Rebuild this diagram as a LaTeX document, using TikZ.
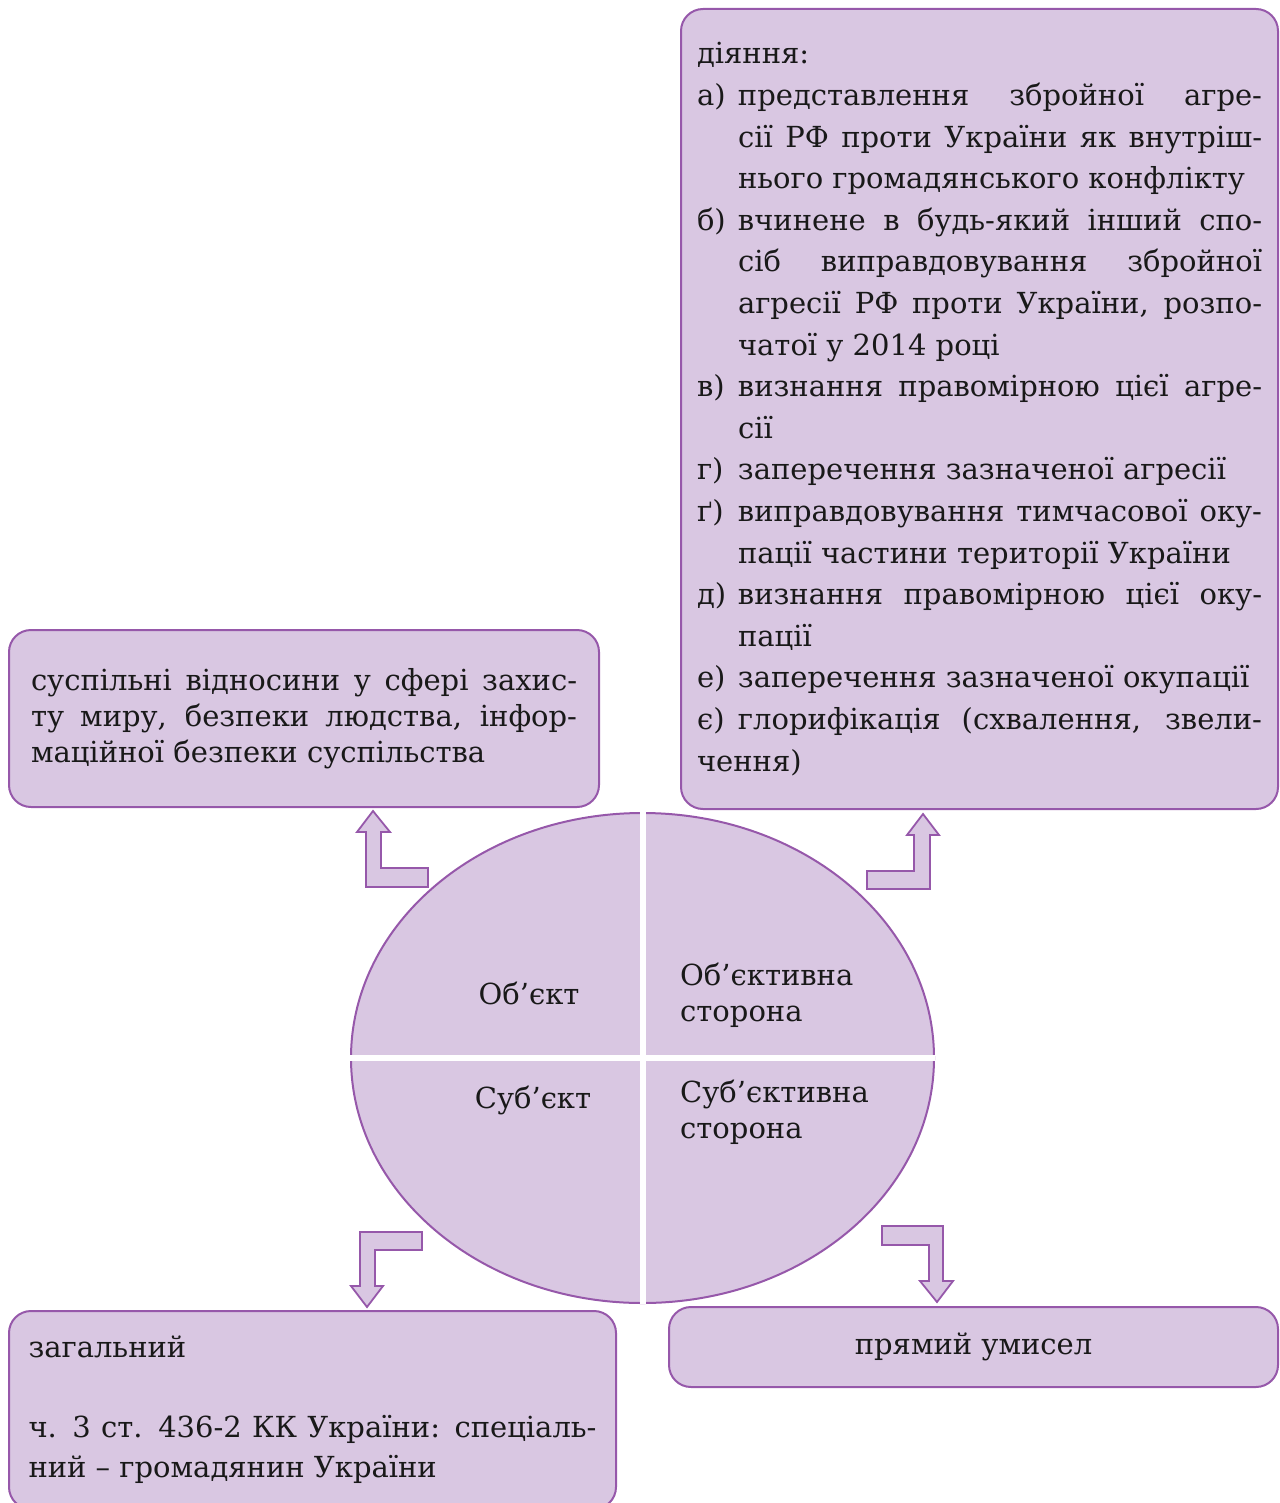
\documentclass[tikz,border=0pt]{standalone}
\usepackage{fontspec}
\setmainfont{DejaVu Serif}
\usetikzlibrary{positioning,shapes.geometric}
\definecolor{boxfill}{RGB}{217,199,226}
\definecolor{boxline}{RGB}{150,88,170}
\newcommand{\itemrow}[2]{\par\hangindent=41pt\hangafter=1\noindent\makebox[41pt][l]{#1}#2}
\tikzset{
  infobox/.style={draw=boxline,fill=boxfill,line width=2pt,rounded corners=22pt,
    align=justify,text=black!90},
  blockarrow/.style={draw=boxline,fill=boxfill,line width=1.8pt,line join=miter},
  oval/.style={ellipse,draw=boxline,fill=boxfill,line width=2pt,inner sep=0pt},
  gap/.style={white,line width=6pt},
  lab/.style={inner sep=0pt,text=black!90,font=\fontsize{29}{36}\selectfont},
}

\begin{document}
\begin{tikzpicture}[x=1pt,y=-1pt]
  \useasboundingbox (0,0) rectangle (1279,1503);
  \clip (0,0) rectangle (1279,1503);
  \hyphenpenalty=10000 \exhyphenpenalty=10000 \tolerance=10000

  % boxes
  \node[infobox,anchor=north west,minimum width=597pt,minimum height=800pt,
    text width=565pt,inner xsep=16pt,font=\fontsize{29}{41.6}\selectfont]
    (act) at (680,8) {\noindent діяння:
    \itemrow{а)}{представлення збройної агре-\linebreak сії РФ проти України як внутріш-\linebreak нього громадянського конфлікту}
    \itemrow{б)}{вчинене в будь-який інший спо-\linebreak сіб виправдовування збройної\linebreak агресії РФ проти України, розпо-\linebreak чатої у 2014 році}
    \itemrow{в)}{визнання правомірною цієї агре-\linebreak сії}
    \itemrow{г)}{заперечення зазначеної агресії}
    \itemrow{ґ)}{виправдовування тимчасової оку-\linebreak пації частини території України}
    \itemrow{д)}{визнання правомірною цієї оку-\linebreak пації}
    \itemrow{е)}{заперечення зазначеної окупації}
    \itemrow{є)}{глорифікація (схвалення, звели-\linebreak чення)}};

  \node[infobox,anchor=north west,minimum width=590pt,minimum height=177pt,
    text width=546pt,inner xsep=22pt,font=\fontsize{29}{36}\selectfont]
    (obj) at (8,629) {суспільні відносини у сфері захис-\linebreak ту миру, безпеки людства, інфор-\linebreak маційної безпеки суспільства};

  \node[infobox,anchor=north west,minimum width=607pt,minimum height=198pt,
    text width=568pt,inner xsep=19.5pt,font=\fontsize{29}{40}\selectfont]
    (subj) at (8,1310) {загальний\par\mbox{}\par
    ч. 3 ст. 436-2 КК України: спеціаль-\linebreak ний – громадянин України};

  \node[infobox,anchor=north west,minimum width=609pt,minimum height=80pt,
    align=center,font=\fontsize{29}{36}\selectfont]
    (intent) at (668,1306) {прямий умисел};

  % circle
  \node[oval,minimum width=583pt,minimum height=490pt] (ell) at (642.5,1058) {};
  \draw[gap] (ell.north) -- (ell.south);
  \draw[gap] (ell.west) -- (ell.east);

  \node[lab] (q1) at (529,993) {Об’єкт};
  \node[lab,anchor=west,align=left] (q2) at (680,995) {Об’єктивна\\сторона};
  \node[lab] (q3) at (533,1100) {Суб’єкт};
  \node[lab,anchor=west,align=left] (q4) at (680,1112) {Суб’єктивна\\сторона};

  % arrows
  \draw[blockarrow] (428,868) -- (381,868) -- (381,832) -- (390,832) -- (373,811)
    -- (357,832) -- (366,832) -- (366,887) -- (428,887) -- cycle;
  \draw[blockarrow] (867,871) -- (914,871) -- (914,835) -- (907,835) -- (923,814)
    -- (939,835) -- (930,835) -- (930,889) -- (867,889) -- cycle;
  \draw[blockarrow] (422,1232) -- (360,1232) -- (360,1286) -- (351,1286) -- (367,1307)
    -- (383,1286) -- (375,1286) -- (375,1250) -- (422,1250) -- cycle;
  \draw[blockarrow] (882,1226) -- (943,1226) -- (943,1281) -- (953,1281) -- (937,1302)
    -- (920,1281) -- (929,1281) -- (929,1245) -- (882,1245) -- cycle;
\end{tikzpicture}
\end{document}
